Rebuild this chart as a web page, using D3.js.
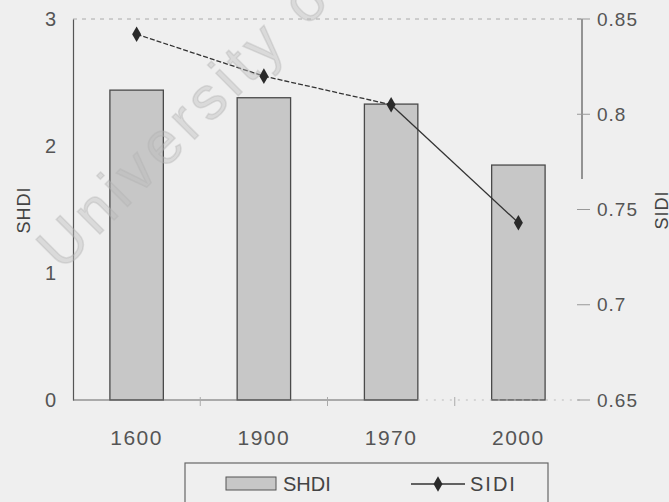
<!DOCTYPE html>
<html>
<head>
<meta charset="utf-8">
<script src="https://cdn.jsdelivr.net/npm/d3@7"></script>
<style>
  body { margin: 0; background: #efefef; }
  svg { display: block; font-family: "Liberation Sans", Arial, sans-serif; }
</style>
</head>
<body>
<svg id="chart" width="669" height="502"></svg>
<script>
// data
var years = ["1600", "1900", "1970", "2000"];
var shdi = [2.44, 2.38, 2.33, 1.85];
var sidi = [0.842, 0.820, 0.805, 0.743];
var leftTicks = [0, 1, 2, 3];
var rightTicks = [0.65, 0.7, 0.75, 0.8, 0.85];
var rightTickLabels = ["0.65", "0.7", "0.75", "0.8", "0.85"];

(function(){
    var svg = d3.select("#chart");
    var padL = 73, padR = 582, padT = 19, padB = 400;

    var x = d3.scaleBand().domain(years).range([padL, padR]).paddingInner(0.58).paddingOuter(0.29);
    var yL = d3.scaleLinear().domain([0, 3]).range([padB, padT]);
    var yR = d3.scaleLinear().domain([0.65, 0.85]).range([padB, padT]);

    svg.append("rect").attr("width", 669).attr("height", 502).attr("fill", "#efefef");

    // faint top line
    svg.append("line")
        .attr("x1", padL).attr("x2", padR)
        .attr("y1", padT).attr("y2", padT)
        .attr("stroke", "#aaa").attr("stroke-dasharray", "4,5");

    // bars
    svg.selectAll(".bar")
        .data(years)
        .enter().append("rect")
        .attr("class", "bar")
        .attr("x", function(d){ return x(d); })
        .attr("width", x.bandwidth())
        .attr("y", function(d, i){ return yL(shdi[i]); })
        .attr("height", function(d, i){ return padB - yL(shdi[i]); })
        .attr("fill", "#c7c7c7")
        .attr("stroke", "#4a4a4a")
        .attr("stroke-width", 1.3);

    // left axis
    var axL = svg.append("g").attr("transform", "translate(" + padL + ",0)")
        .call(d3.axisLeft(yL).tickValues(leftTicks).tickFormat(d3.format("d")).tickSize(0).tickPadding(17));
    axL.select(".domain").attr("stroke", "#555").attr("stroke-width", 1.2);
    axL.selectAll("text").attr("font-size", 20).attr("fill", "#555");

    // bottom axis
    var axB = svg.append("g").attr("transform", "translate(0," + padB + ")")
        .call(d3.axisBottom(x).tickSize(0).tickPadding(30));
    axB.select(".domain").remove();
    axB.selectAll("text").attr("font-size", 21).attr("letter-spacing", 1.5).attr("fill", "#555");
    svg.append("line")
        .attr("x1", padL).attr("x2", x("1970") + x.bandwidth())
        .attr("y1", padB).attr("y2", padB)
        .attr("stroke", "#666").attr("stroke-width", 1.2);
    svg.append("line")
        .attr("x1", x("1970") + x.bandwidth()).attr("x2", padR)
        .attr("y1", padB).attr("y2", padB)
        .attr("stroke", "#bbb").attr("stroke-dasharray", "2,6");
    // small ticks between categories
    svg.selectAll(".xtick")
        .data(years.slice(1))
        .enter().append("line")
        .attr("class", "xtick")
        .attr("x1", function(d){ return x(d) - x.step() * x.paddingInner() / 2; })
        .attr("x2", function(d){ return x(d) - x.step() * x.paddingInner() / 2; })
        .attr("y1", padB - 3).attr("y2", padB + 6)
        .attr("stroke", "#aaa");

    // right axis
    var axR = svg.append("g").attr("transform", "translate(" + padR + ",0)")
        .call(d3.axisRight(yR).tickValues(rightTicks)
            .tickFormat(function(d, i){ return rightTickLabels[i]; }).tickSize(0).tickPadding(15));
    axR.select(".domain").remove();
    axR.selectAll("text").attr("font-size", 19).attr("letter-spacing", 1).attr("fill", "#555");
    svg.append("line")
        .attr("x1", padR).attr("x2", padR)
        .attr("y1", yR(0.85)).attr("y2", yR(0.766))
        .attr("stroke", "#555").attr("stroke-width", 1.2);
    svg.selectAll(".rtick")
        .data(rightTicks)
        .enter().append("line")
        .attr("class", "rtick")
        .attr("x1", padR - 5).attr("x2", padR + 8)
        .attr("y1", function(d){ return yR(d); })
        .attr("y2", function(d){ return yR(d); })
        .attr("stroke", "#999");

    // axis titles
    svg.append("text")
        .attr("transform", "translate(30,210) rotate(-90)")
        .attr("text-anchor", "middle")
        .attr("font-size", 18).attr("letter-spacing", 1).attr("fill", "#444")
        .text("SHDI");
    svg.append("text")
        .attr("transform", "translate(668,210) rotate(-90)")
        .attr("text-anchor", "middle")
        .attr("font-size", 18).attr("letter-spacing", 1).attr("fill", "#444")
        .text("SIDI");

    // SIDI line, dashed for the early part, solid for the last segment
    var cx = function(i){ return x(years[i]) + x.bandwidth() / 2; };
    var segs = d3.range(sidi.length - 1);
    svg.selectAll(".seg")
        .data(segs)
        .enter().append("line")
        .attr("class", "seg")
        .attr("x1", function(i){ return cx(i); })
        .attr("y1", function(i){ return yR(sidi[i]); })
        .attr("x2", function(i){ return cx(i + 1); })
        .attr("y2", function(i){ return yR(sidi[i + 1]); })
        .attr("stroke", "#333")
        .attr("stroke-width", 1.3)
        .attr("stroke-dasharray", function(i){ return i < 2 ? "5,2" : null; });

    var diamond = d3.symbol().type(d3.symbolDiamond).size(70);
    svg.selectAll(".pt")
        .data(sidi)
        .enter().append("path")
        .attr("class", "pt")
        .attr("d", diamond)
        .attr("transform", function(d, i){ return "translate(" + cx(i) + "," + yR(d) + ")"; })
        .attr("fill", "#2a2a2a");

    // legend
    var lg = svg.append("g");
    lg.append("rect")
        .attr("x", 185).attr("y", 463).attr("width", 363).attr("height", 50)
        .attr("fill", "none").attr("stroke", "#666").attr("stroke-width", 1.2);
    lg.append("rect")
        .attr("x", 226).attr("y", 477).attr("width", 50).attr("height", 13)
        .attr("fill", "#c7c7c7").attr("stroke", "#555");
    lg.append("text")
        .attr("x", 283).attr("y", 491)
        .attr("font-size", 20).attr("fill", "#444")
        .text("SHDI");
    lg.append("line")
        .attr("x1", 411).attr("x2", 465).attr("y1", 484).attr("y2", 484)
        .attr("stroke", "#333").attr("stroke-width", 1.3);
    lg.append("path")
        .attr("d", diamond)
        .attr("transform", "translate(438,484)")
        .attr("fill", "#2a2a2a");
    lg.append("text")
        .attr("x", 470).attr("y", 491)
        .attr("font-size", 20).attr("letter-spacing", 2).attr("fill", "#444")
        .text("SIDI");

    // watermark on top of everything
    svg.append("text")
        .attr("transform", "translate(62,272) rotate(-45)")
        .attr("font-size", 60)
        .attr("letter-spacing", 6)
        .attr("fill", "#bdbdbd")
        .attr("fill-opacity", 0.42)
        .attr("stroke", "#b0b0b0")
        .attr("stroke-opacity", 0.35)
        .attr("stroke-width", 1.5)
        .text("University of");
})();
</script>
</body>
</html>
